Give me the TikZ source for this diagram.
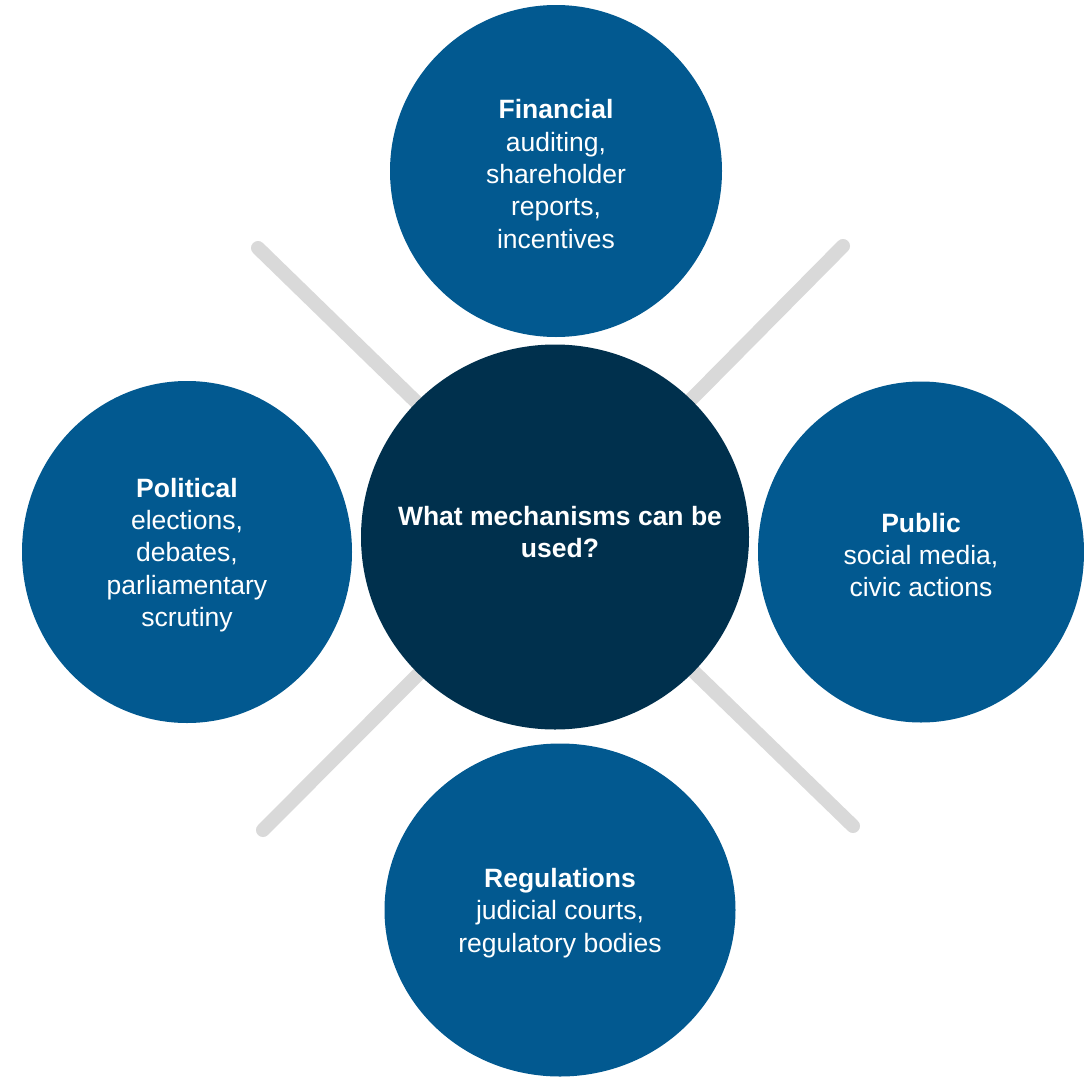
\documentclass[tikz,border=0pt]{standalone}
\usepackage{fontspec}
\setmainfont{Liberation Sans}
\usetikzlibrary{shapes.geometric,backgrounds}
\definecolor{outerblue}{RGB}{2,89,144}
\definecolor{hubblue}{RGB}{0,48,77}
\definecolor{spoke}{RGB}{217,217,217}
\tikzset{
  bubble/.style={ellipse, fill=outerblue, draw=none, inner sep=0pt},
  hubnode/.style={ellipse, fill=hubblue, draw=none, inner sep=0pt},
  bubbletext/.style={text=white, align=center, inner sep=0pt, yshift=-3pt,
    font=\fontsize{26.5}{32.3}\selectfont},
  hubtext/.style={text=white, align=center, inner sep=0pt, yshift=5pt, xshift=5pt,
    font=\bfseries\fontsize{26.5}{32.3}\selectfont},
  spokeline/.style={draw=spoke, line width=14pt, line cap=round}
}
\begin{document}
\begin{tikzpicture}[x=1pt,y=-1pt]
\useasboundingbox (0,0) rectangle (1084,1076);
\node[hubnode, minimum width=388pt, minimum height=385pt,
  label={[hubtext]center:What mechanisms can be\\used?}] (hub) at (555,537) {};
\node[bubble, minimum width=332pt, minimum height=332pt,
  label={[bubbletext]center:\textbf{Financial}\\auditing,\\shareholder\\reports,\\incentives}] (fin) at (556,171) {};
\node[bubble, minimum width=330pt, minimum height=342pt,
  label={[bubbletext]center:\textbf{Political}\\elections,\\debates,\\parliamentary\\scrutiny}] (pol) at (187,552) {};
\node[bubble, minimum width=326pt, minimum height=341pt,
  label={[bubbletext]center:\textbf{Public}\\social media,\\civic actions}] (pub) at (921,552) {};
\node[bubble, minimum width=351pt, minimum height=333pt,
  label={[bubbletext]center:\textbf{Regulations}\\judicial courts,\\regulatory bodies}] (reg) at (560,910) {};
\coordinate (tl) at (258,248);
\coordinate (tr) at (843,246);
\coordinate (bl) at (263,830);
\coordinate (br) at (853,826);
\begin{scope}[on background layer]
\draw[spokeline] (tl) -- (hub.center);
\draw[spokeline] (tr) -- (hub.center);
\draw[spokeline] (bl) -- (hub.center);
\draw[spokeline] (br) -- (hub.center);
\end{scope}
\end{tikzpicture}
\end{document}
